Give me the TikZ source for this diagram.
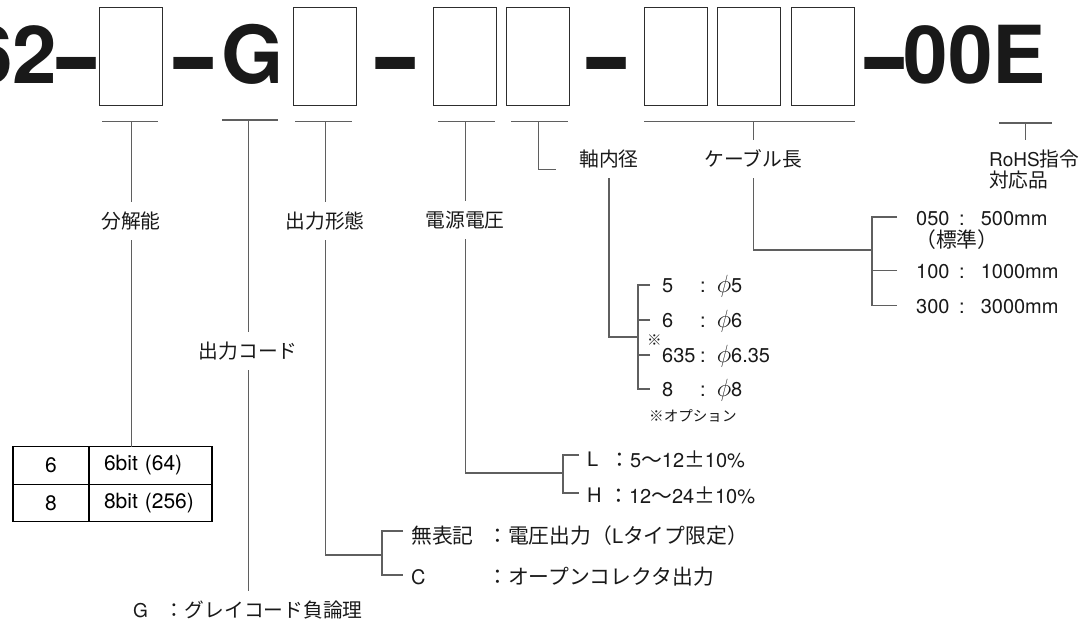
\documentclass[tikz,border=0pt]{standalone}
\usepackage{fontspec}
\setmainfont{TeX Gyre Heros}
\newfontfamily\jp{Noto Sans CJK JP}[Scale=1.04]
\newfontfamily\jpw{Noto Sans CJK JP}[Scale=1.04,RawFeature=+fwid]
\usepackage{graphicx}
\usepackage{tikz}
\usetikzlibrary{positioning}
\usetikzlibrary{calc}
\newcommand{\bdash}{\raisebox{-10pt}{\scalebox{0.87}[1.45]{–}}}
\newcommand{\dia}{\scalebox{1.2}{$\phi$}}
\definecolor{cbox}{RGB}{45,45,45}
\definecolor{cwire}{RGB}{95,95,95}
\definecolor{ctext}{RGB}{25,25,25}
\tikzstyle{slot}=[draw=cbox, line width=1.1pt, minimum width=63pt, minimum height=98pt, inner sep=0pt, anchor=north west]
\tikzstyle{code}=[ctext, font=\fontsize{80}{80}\selectfont\bfseries, inner sep=0pt]
\tikzstyle{lbl}=[ctext, font=\fontsize{19}{22}\selectfont\jp, inner xsep=3pt, inner ysep=10pt]
\tikzstyle{opt}=[ctext, font=\fontsize{20}{22}\selectfont, inner sep=0pt, anchor=west]
\tikzstyle{note}=[ctext, font=\fontsize{14}{16}\selectfont\jp, inner sep=0pt, anchor=west]
\tikzstyle{cell}=[draw=black, line width=1.2pt, font=\fontsize{21}{24}\selectfont, minimum height=37.5pt, inner ysep=0pt, outer sep=0pt]
\tikzstyle{wire}=[cwire, line width=1.1pt]

\begin{document}
\begin{tikzpicture}[x=1pt, y=-1pt]
  \useasboundingbox (0,0) rectangle (1088,625);

  % part number
  \node [code, anchor=base east] (pre) at (96,83) {62\bdash};
  \node [slot] (b1) at (99,7) {};
  \node [code, anchor=base west] (d1) at (174,83) {\bdash};
  \node [code, anchor=base west] (g) at (221,83) {G};
  \node [slot] (b2) at (293,7) {};
  \node [code, anchor=base west] (d2) at (376,83) {\bdash};
  \node [slot] (b3) at (433,7) {};
  \node [slot] (b4) at (506,7) {};
  \node [code, anchor=base west] (d3) at (587,83) {\bdash};
  \node [slot] (b5) at (644,7) {};
  \node [slot] (b6) at (717,7) {};
  \node [slot] (b7) at (791,7) {};
  \node [code, anchor=base west] (sfx) at (865,83) {\bdash 00E};

  % resolution
  \coordinate (k1) at ($(b1.south)+(0,15)$);
  \draw [wire] ($(b1.south west)+(3,15)$) -- ($(b1.south east)+(-5,15)$);
  \node [lbl] (res) at (k1 |- 0,221) {分解能};
  \node [cell, minimum width=76pt] (t11) at (51,465.5) {6};
  \node [cell, right=0pt of t11, text width=93pt, inner xsep=15pt, align=left] (t12) {6bit (64)};
  \node [cell, minimum width=76pt, below=0pt of t11] (t21) {8};
  \node [cell, right=0pt of t21, text width=93pt, inner xsep=15pt, align=left] (t22) {8bit (256)};
  \draw [wire] (k1) -- (res);
  \draw [wire] (res) -- (res |- t12.north);

  % output code
  \coordinate (kg) at ($(g.base)+(-4,37)$);
  \draw [wire] ($(kg)+(-26,0)$) -- ($(kg)+(30,0)$);
  \node [lbl] (ocode) at (kg |- 0,351) {出力コード};
  \node [lbl, anchor=west] (gneg) at (130,610) {{\rmfamily G}\hspace{17pt}：グレイコード負論理};
  \draw [wire] (kg) -- (ocode);
  \draw [wire] (ocode) -- (ocode |- gneg.north);

  % output type
  \coordinate (k2) at ($(b2.south)+(0,15)$);
  \draw [wire] ($(b2.south west)+(2,15)$) -- ($(b2.south east)+(-5,15)$);
  \node [lbl] (otype) at (k2 |- 0,221) {出力形態};
  \node [opt] (o1) at (411,536) {\jp 無表記};
  \node [opt] (o1v) at (487,536) {{\jp ：電圧出力（}L{\jp タイプ限定）}};
  \node [opt] (o2) at (411,577) {C};
  \node [opt] (o2v) at (487,577) {\jp ：オープンコレクタ出力};
  \coordinate (ob) at (382,555);
  \draw [wire] (k2) -- (otype);
  \draw [wire] (otype) |- (ob);
  \draw [wire] ($(o1.west)+(-8,-5)$) -| (ob) |- ($(o2.west)+(-8,-2)$);

  % supply voltage
  \coordinate (k3) at ($(b3.south)+(0,15)$);
  \draw [wire] ($(b3.south west)+(5,15)$) -- ($(b3.south east)+(-2,15)$);
  \node [lbl] (volt) at (k3 |- 0,220) {電源電圧};
  \node [opt] (v1) at (587,459) {L};
  \node [opt] (v1v) at (609,459) {{\jp ：}5{\jp ～}12{\jpw ±}10\%};
  \node [opt] (v2) at (587,495) {H};
  \node [opt] (v2v) at (608,495) {{\jp ：}12{\jp ～}24{\jpw ±}10\%};
  \coordinate (vb) at (563,473);
  \draw [wire] (k3) -- (volt);
  \draw [wire] (volt) |- (vb);
  \draw [wire] ($(v1.west)+(-8,-4)$) -| (vb) |- ($(v2.west)+(-8,-2)$);

  % bore
  \coordinate (k4) at ($(b4.south)+(0,15)$);
  \draw [wire] ($(b4.south west)+(5,15)$) -- ($(b4.south east)+(-2,15)$);
  \draw [wire] (k4) |- ($(k4)+(18,48)$);
  \node [lbl] (bore) at (609,159) {軸内径};
  \node [opt] (s1) at (662,286) {5};
  \node [opt] (s2) at (662,321) {6};
  \node [opt] (s3) at (662,356) {635};
  \node [opt] (s4) at (662,390) {8};
  \node [opt] (s1v) at (700,286) {:\hspace{11pt}\dia 5};
  \node [opt] (s2v) at (700,321) {:\hspace{11pt}\dia 6};
  \node [opt] (s3v) at (700,356) {:\hspace{11pt}\dia 6.35};
  \node [opt] (s4v) at (700,390) {:\hspace{11pt}\dia 8};
  \node [note] (mark) at (647,340) {※};
  \node [note] (opt) at (649,416) {※オプション};
  \coordinate (bb) at (638,337);
  \draw [wire] (bore) |- (bb);
  \draw [wire] ($(s1.west)+(-12,-1)$) -| (bb) |- ($(s4.west)+(-12,-1)$);
  \draw [wire] ($(s2.west)+(-12,-1)$) -- ++(-12,0);
  \draw [wire] ($(s3.west)+(-12,-1)$) -- ++(-12,0);

  % cable length
  \coordinate (k5) at ($(b6.south)+(4,15)$);
  \draw [wire] ($(b5.south west)+(0,15)$) -- ($(b7.south east)+(0,15)$);
  \node [lbl] (cable) at (k5 |- 0,159) {ケーブル長};
  \node [opt] (c1) at (916,218.5) {050};
  \node [opt] (c1v) at (959,218.5) {:\hspace{16pt}500mm};
  \node [opt] (std) at (915,240) {\jp （標準）};
  \node [opt] (c2) at (916,272) {100};
  \node [opt] (c2v) at (959,272) {:\hspace{16pt}1000mm};
  \node [opt] (c3) at (916,307) {300};
  \node [opt] (c3v) at (959,307) {:\hspace{16pt}3000mm};
  \coordinate (lb) at (872,250);
  \draw [wire] (k5) -- (cable);
  \draw [wire] (cable) |- (lb);
  \draw [wire] ($(c1.west)+(-19,-1.5)$) -| (lb) |- ($(c3.west)+(-19,-1.5)$);
  \draw [wire] ($(c2.west)+(-19,-1.5)$) -- ++(-25,0);

  % rohs
  \coordinate (k8) at ($(sfx.base east)+(-21,40)$);
  \draw [wire] ($(k8)+(-26,0)$) -- ($(k8)+(27,0)$);
  \node [lbl, font=\fontsize{19}{21}\selectfont\jp, anchor=north west, align=left] (rohs) at (986,140) {{\rmfamily RoHS}指令\\対応品};
  \draw [wire] (k8) -- (k8 |- rohs.north);
\end{tikzpicture}
\end{document}
